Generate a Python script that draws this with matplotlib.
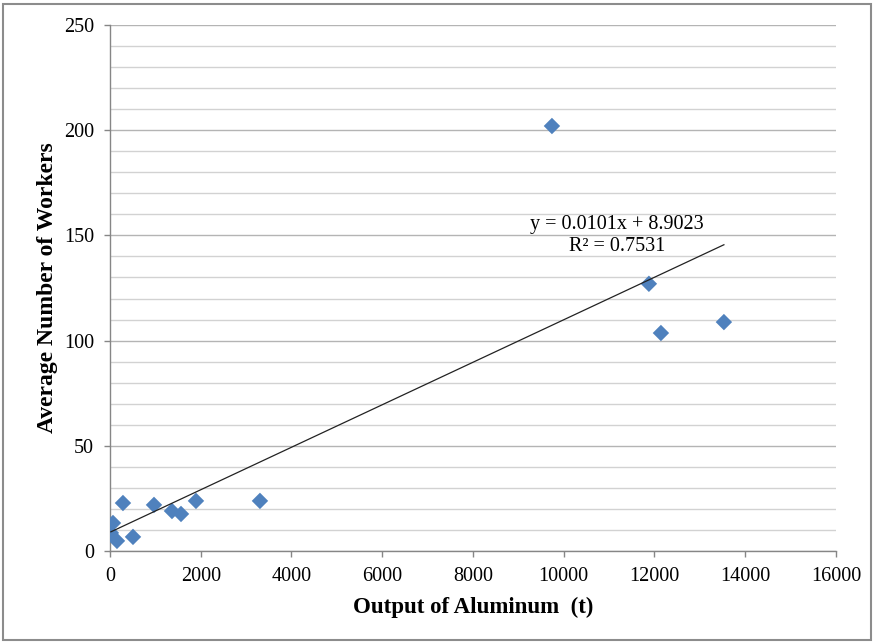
import matplotlib
matplotlib.use("Agg")
import matplotlib.pyplot as plt
import numpy as np
from matplotlib.patches import Rectangle
from matplotlib.ticker import MultipleLocator

# values
output_t = [20, 66, 154, 286, 507, 970, 1366, 1565, 1895, 3305,
            9740, 11877, 12142, 13530]
workers = [8.6, 13.3, 4.8, 22.8, 6.7, 21.9, 19.0, 17.6, 23.8, 23.8,
           202.0, 127.0, 103.6, 108.8]

slope = 0.0101
intercept = 8.9023
r2 = 0.7531

plt.rcParams["font.family"] = ["Liberation Serif", "DejaVu Serif"]

fig = plt.figure(figsize=(8.75, 6.43), dpi=100)
ax = fig.add_axes([0.1257, 0.1431, 0.9554 - 0.1257, 0.9611 - 0.1431])

ax.set_xlim(0, 16000)
ax.set_ylim(0, 250)
ax.xaxis.set_major_locator(MultipleLocator(2000))
ax.yaxis.set_major_locator(MultipleLocator(50))
ax.yaxis.set_minor_locator(MultipleLocator(10))

ax.grid(True, axis="y", which="major", color="#b4b4b4", lw=1.0)
ax.grid(True, axis="y", which="minor", color="#d2d2d2", lw=1.0)
ax.set_axisbelow(True)

for s in ("top", "right"):
    ax.spines[s].set_visible(False)
for s in ("left", "bottom"):
    ax.spines[s].set_color("#868686")
    ax.spines[s].set_linewidth(1.0)

ax.tick_params(axis="both", which="major", direction="out", length=4.5,
               width=1.0, color="#868686", labelsize=14.5, pad=7)
ax.tick_params(axis="y", which="minor", length=0)

ax.scatter(output_t, workers, marker="D", s=70, color="#4f81bd",
           edgecolors="none", zorder=3)

xs = np.array([min(output_t), max(output_t)])
ax.plot(xs, slope * xs + intercept, color="#222222", lw=0.9, zorder=4)

# equation label, placed like Excel's trendline label
ax.text(11170, 155.4, f"y = {slope}x + {intercept}", ha="center", va="center",
        fontsize=14.5, zorder=5)
ax.text(11170, 144.5, f"R² = {r2}", ha="center", va="center",
        fontsize=14.5, zorder=5)

ax.set_xlabel("Output of Aluminum  (t)", fontsize=16.5, fontweight="bold", labelpad=8)
ax.set_ylabel("Average Number of Workers", fontsize=17, fontweight="bold", labelpad=4)

fig.patches.append(Rectangle((3 / 875, 3 / 643), 868 / 875, 636 / 643,
                             transform=fig.transFigure, fill=False,
                             edgecolor="#8c8c8c", lw=1.5))

fig.savefig("out.png", dpi=100)
